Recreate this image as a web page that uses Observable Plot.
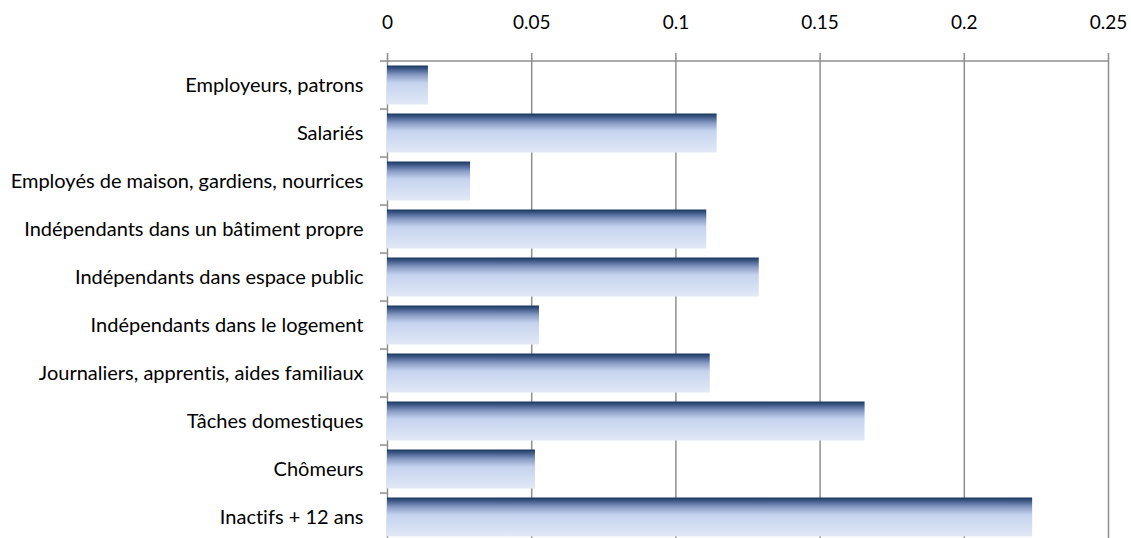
<!DOCTYPE html>
<html>
<head>
<meta charset="utf-8">
<script src="https://cdn.jsdelivr.net/npm/d3@7"></script>
<script src="https://cdn.jsdelivr.net/npm/@observablehq/plot@0.6"></script>
<style>
  html, body { margin: 0; padding: 0; background: #fff; }
  #chart svg { display: block; font-variant-ligatures: none; }
</style>
</head>
<body>
<div id="chart"></div>
<script>
// Categories (top to bottom) and their shares
const categories = [
  "Employeurs, patrons",
  "Salariés",
  "Employés de maison, gardiens, nourrices",
  "Indépendants dans un bâtiment propre",
  "Indépendants dans espace public",
  "Indépendants dans le logement",
  "Journaliers, apprentis, aides familiaux",
  "Tâches domestiques",
  "Chômeurs",
  "Inactifs + 12 ans"
];
const values = [0.0142, 0.1143, 0.0288, 0.1107, 0.1289, 0.0527, 0.1119, 0.1656, 0.0513, 0.2237];

// Axis ticks
const xTicks = [0, 0.05, 0.1, 0.15, 0.2, 0.25];
const xTickLabels = ["0", "0.05", "0.1", "0.15", "0.2", "0.25"];

const data = categories.map((category, i) => ({category, value: values[i]}));

const ns = "http://www.w3.org/2000/svg";
const gridColor = "#8e8e8e";

// Vertical gradient used to fill each bar
function barGradient() {
  const defs = document.createElementNS(ns, "defs");
  const lg = document.createElementNS(ns, "linearGradient");
  lg.setAttribute("id", "barGrad");
  lg.setAttribute("x1", "0"); lg.setAttribute("y1", "0");
  lg.setAttribute("x2", "0"); lg.setAttribute("y2", "1");
  [
    [0, "#17375e"],
    [0.08, "#3b5684"],
    [0.25, "#8a9dc6"],
    [0.45, "#c5d3ee"],
    [1, "#e2e9f7"]
  ].forEach(([o, c]) => {
    const s = document.createElementNS(ns, "stop");
    s.setAttribute("offset", o);
    s.setAttribute("stop-color", c);
    lg.appendChild(s);
  });
  defs.appendChild(lg);
  return defs;
}

// Top frame line and category separators on the left axis
function bandFrame(index, {x, y}) {
  const g = document.createElementNS(ns, "g");
  g.setAttribute("stroke", gridColor);
  g.setAttribute("stroke-width", 1.5);
  const bw = y.bandwidth();
  const x0 = x(0);
  const edges = y.domain().map((c) => y(c));
  edges.push(edges[edges.length - 1] + bw);
  edges.forEach((yy, i) => {
    const l = document.createElementNS(ns, "line");
    l.setAttribute("x1", x0 - 7);
    l.setAttribute("x2", i === 0 ? x(xTicks[xTicks.length - 1]) : x0);
    l.setAttribute("y1", yy);
    l.setAttribute("y2", yy);
    g.appendChild(l);
  });
  return g;
}

const chart = Plot.plot({
  width: 1131,
  height: 538,
  marginLeft: 387,
  marginRight: 23,
  marginTop: 58,
  marginBottom: -5,
  style: {fontFamily: "Lato, 'Open Sans', sans-serif", fontSize: "20px", color: "#000", background: "#fff"},
  x: {domain: [0, 0.25], label: null},
  y: {domain: categories, padding: 0, label: null},
  marks: [
    barGradient,
    Plot.gridX(xTicks, {stroke: gridColor, strokeOpacity: 1, strokeWidth: 1.5}),
    Plot.barX(data, {x: "value", y: "category", fill: "url(#barGrad)", insetTop: 4.5, insetBottom: 4.5}),
    bandFrame,
    Plot.axisX({
      anchor: "top",
      ticks: xTicks,
      tickFormat: (d) => xTickLabels[xTicks.indexOf(d)],
      tickSize: 6,
      tickPadding: 24,
      stroke: gridColor,
      strokeWidth: 1.5,
      fill: "#000",
      fontSize: 19
    }),
    Plot.axisY({
      ticks: categories,
      tickSize: 0,
      tickPadding: 24,
      fill: "#000",
      fontSize: 20
    })
  ]
});

document.getElementById("chart").appendChild(chart);
</script>
</body>
</html>
